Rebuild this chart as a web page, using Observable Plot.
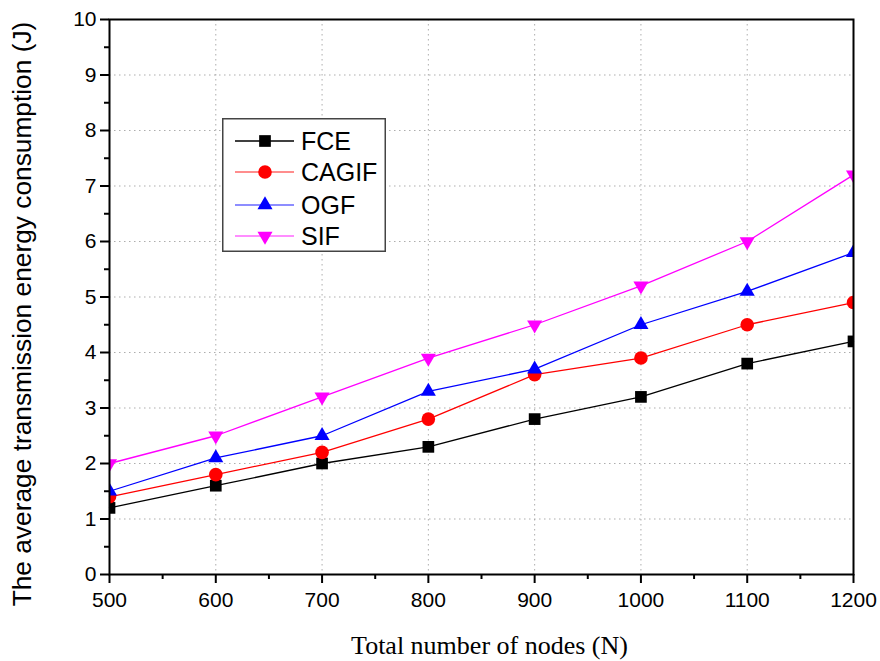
<!DOCTYPE html>
<html>
<head>
<meta charset="utf-8">
<script src="https://cdn.jsdelivr.net/npm/d3@7"></script>
<script src="https://cdn.jsdelivr.net/npm/@observablehq/plot@0.6"></script>
<style>
  html, body { margin: 0; padding: 0; background: #fff; }
  #wrap { position: relative; width: 880px; height: 661px; }
  #legend { position: absolute; left: 222px; top: 118px; }
</style>
</head>
<body>
<div id="wrap"></div>
<script>
// ---- data ----
const nodes = [500, 600, 700, 800, 900, 1000, 1100, 1200];
const fce   = [1.2, 1.6, 2.0, 2.3, 2.8, 3.2, 3.8, 4.2];
const cagif = [1.4, 1.8, 2.2, 2.8, 3.6, 3.9, 4.5, 4.9];
const ogf   = [1.5, 2.1, 2.5, 3.3, 3.7, 4.5, 5.1, 5.8];
const sif   = [2.0, 2.5, 3.2, 3.9, 4.5, 5.2, 6.0, 7.2];
const seriesNames = ["FCE", "CAGIF", "OGF", "SIF"];
const xTicks = [500, 600, 700, 800, 900, 1000, 1100, 1200];
const yTicks = [0, 1, 2, 3, 4, 5, 6, 7, 8, 9, 10];
const xTitle = "Total number of nodes (N)";
const yTitle = "The average transmission energy consumption (J)";

// ---- styling ----
const colors = ["#000000", "#ff0000", "#0000ff", "#ff00ff"];
const triangleDown = {
  draw(context, size) {
    const y = -Math.sqrt(size / (Math.sqrt(3) * 3));
    context.moveTo(0, -y * 2);
    context.lineTo(Math.sqrt(3) * y, y);
    context.lineTo(-Math.sqrt(3) * y, y);
    context.closePath();
  }
};
const symbols = ["square", "circle", "triangle", triangleDown];
const d3symbols = [d3.symbolSquare, d3.symbolCircle, d3.symbolTriangle, triangleDown];
const radii = [6.6, 6.8, 5.6, 5.6];
const sans = "Liberation Sans, Arial, sans-serif";

const valuesList = [fce, cagif, ogf, sif];
const rows = [];
seriesNames.forEach((s, i) => nodes.forEach((n, j) => rows.push({series: s, idx: i, x: n, y: valuesList[i][j]})));

const marks = [
  Plot.gridX(xTicks, {stroke: "#999", strokeOpacity: 0.8, strokeDasharray: "1.5,3.5", strokeWidth: 1}),
  Plot.gridY(yTicks, {stroke: "#999", strokeOpacity: 0.8, strokeDasharray: "1.5,3.5", strokeWidth: 1}),
];
seriesNames.forEach((s, i) => {
  const d = rows.filter(r => r.idx === i);
  marks.push(Plot.line(d, {x: "x", y: "y", stroke: colors[i], strokeWidth: 1.3}));
});
seriesNames.forEach((s, i) => {
  const d = rows.filter(r => r.idx === i);
  marks.push(Plot.dot(d, {x: "x", y: "y", symbol: symbols[i], fill: colors[i], stroke: "none", r: radii[i], clip: true}));
});
marks.push(
  Plot.frame({stroke: "#000", strokeWidth: 2}),
  Plot.axisX({ticks: xTicks, tickSize: 9, tickPadding: 9, strokeWidth: 2, fontSize: 21, fontFamily: sans, fill: "#000", label: null, tickFormat: d => String(d)}),
  Plot.axisX({ticks: d3.range(550, 1200, 100), tickSize: 5, strokeWidth: 2, text: null, label: null}),
  Plot.axisY({ticks: yTicks, tickSize: 9, tickPadding: 4, strokeWidth: 2, fontSize: 21, fontFamily: sans, fill: "#000", label: null, tickFormat: d => String(d)}),
  Plot.axisY({ticks: d3.range(0.5, 10, 1), tickSize: 5, strokeWidth: 2, text: null, label: null}),
  Plot.text([xTitle], {frameAnchor: "bottom", dx: 8, dy: 79, fontSize: 26, fontFamily: "Liberation Serif, Times New Roman, serif", fill: "#000"}),
  Plot.text([yTitle], {frameAnchor: "left", textAnchor: "middle", dx: -87, dy: 17, rotate: -90, fontSize: 26.3, fontFamily: sans, fill: "#000"})
);

const chart = Plot.plot({
  width: 880,
  height: 661,
  marginLeft: 109,
  marginRight: 27,
  marginTop: 19,
  marginBottom: 87,
  x: {domain: [500, 1200], type: "linear"},
  y: {domain: [0, 10], type: "linear"},
  style: {background: "#fff", overflow: "visible"},
  marks
});
const wrap = document.getElementById("wrap");
wrap.appendChild(chart);

// ---- legend (HTML/SVG overlay) ----
const lw = 164, lh = 134;
const legend = d3.create("svg").attr("id", "legend").attr("width", lw).attr("height", lh);
legend.append("rect").attr("x", 0.75).attr("y", 0.75).attr("width", lw - 1.5).attr("height", lh - 1.5)
  .attr("fill", "#fff").attr("stroke", "#444").attr("stroke-width", 1.5);
const rowY = [23, 54, 87, 118];
seriesNames.forEach((s, i) => {
  const g = legend.append("g").attr("transform", `translate(0,${rowY[i]})`);
  g.append("line").attr("x1", 13).attr("x2", 72).attr("y1", 0).attr("y2", 0)
    .attr("stroke", colors[i]).attr("stroke-width", 1.3).attr("stroke-opacity", i === 0 ? 1 : 0.6);
  g.append("path").attr("transform", "translate(43,0)")
    .attr("d", d3.symbol(d3symbols[i], Math.PI * radii[i] * radii[i])())
    .attr("fill", colors[i]);
  g.append("text").attr("x", 79).attr("y", 0).attr("dy", "0.35em")
    .attr("font-family", sans).attr("font-size", 25)
    .attr("fill", "#000").text(s);
});
wrap.appendChild(legend.node());
</script>
</body>
</html>
